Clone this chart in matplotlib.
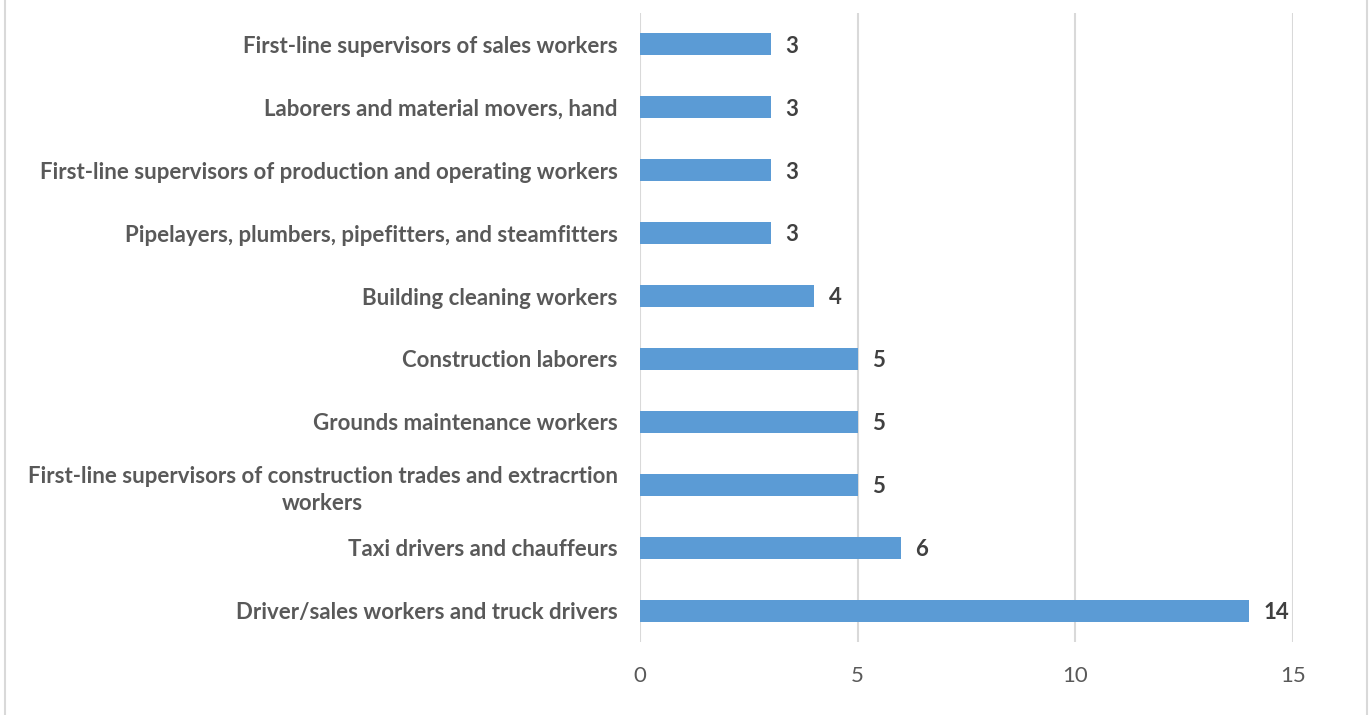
import matplotlib.pyplot as plt

# Occupations (top to bottom as in the chart)
occupations = [
    "First-line supervisors of sales workers",
    "Laborers and material movers, hand",
    "First-line supervisors of production and operating workers",
    "Pipelayers, plumbers, pipefitters, and steamfitters",
    "Building cleaning workers",
    "Construction laborers",
    "Grounds maintenance workers",
    "First-line supervisors of construction trades and extracrtion\nworkers",
    "Taxi drivers and chauffeurs",
    "Driver/sales workers and truck drivers",
]
counts = [3, 3, 3, 3, 4, 5, 5, 5, 6, 14]
xticks = [0, 5, 10, 15]

plt.rcParams['font.family'] = ['Lato', 'DejaVu Sans']

fig = plt.figure(figsize=(13.72, 7.15), dpi=100)
ax = fig.add_axes([0.4665, 0.102, 0.4759, 0.880])

# on inverse l'ordre pour que la première catégorie soit en haut
ypos = list(range(len(occupations)))[::-1]
ax.barh(ypos, counts, height=0.35, color='#5B9BD5', zorder=3)

for y, v in zip(ypos, counts):
    ax.text(v + 0.33, y - 0.03, str(v), va='center', ha='left', fontsize=16,
            fontweight='bold', color='#404040')

ax.set_yticks(ypos)
ax.set_yticklabels(occupations, fontsize=16, fontweight='bold', color='#595959',
                   multialignment='center', linespacing=1.35)
ax.set_xticks(xticks)
ax.set_xticklabels([str(t) for t in xticks], fontsize=16, color='#595959')
ax.set_xlim(0, 15)
ax.set_ylim(-0.5, len(occupations) - 0.5)
ax.tick_params(length=0, axis='y', pad=16)
ax.tick_params(length=0, axis='x', pad=17)

ax.grid(axis='x', color='#D9D9D9', linewidth=1.5, zorder=0)
for s in ax.spines.values():
    s.set_visible(False)

# bordure du cadre
fig.add_artist(plt.Line2D([0.004, 0.004], [0, 1], color='#D9D9D9', linewidth=1.5))
fig.add_artist(plt.Line2D([0.9965, 0.9965], [0, 1], color='#D9D9D9', linewidth=1.5))

fig.savefig('out.png', dpi=100)
